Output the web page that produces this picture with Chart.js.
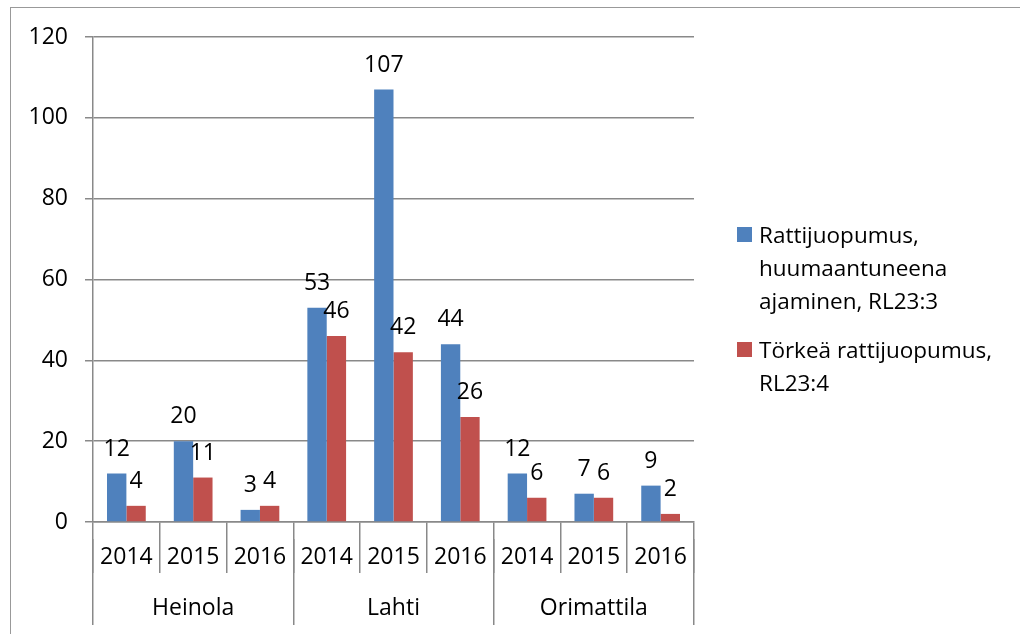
<!DOCTYPE html>
<html>
<head>
<meta charset="utf-8">
<script src="https://cdn.jsdelivr.net/npm/chart.js@4/dist/chart.umd.min.js"></script>
<style>
    body { margin: 0; background: #fff; }
    #wrap { position: relative; width: 1020px; height: 634px; overflow: hidden; }
    #frame { position: absolute; left: 10px; top: 7px; width: 1100px; height: 700px;
             border-left: 1px solid #999; border-top: 1px solid #999; }
    #chart-canvas { position: absolute; left: 0; top: 0; }
    #legend { position: absolute; left: 737px; top: 218px; font-family: 'Open Sans', sans-serif;
              font-size: 22.5px; line-height: 33px; color: #000; }
    .legend-item { position: relative; padding-left: 22px; margin-bottom: 16px; }
    .legend-box { position: absolute; left: 0; top: 9px; width: 15px; height: 15px; }
</style>
</head>
<body>
<div id="wrap">
    <div id="frame"></div>
    <canvas id="chart-canvas" width="1020" height="634"></canvas>
    <div id="legend"></div>
</div>
<script>
const cities = ['Heinola', 'Lahti', 'Orimattila'];
const years = ['2014', '2015', '2016'];
const seriesNames = [
    ['Rattijuopumus,', 'huumaantuneena', 'ajaminen, RL23:3'],
    ['Törkeä rattijuopumus,', 'RL23:4']
];
const rattijuopumus = [12, 20, 3, 53, 107, 44, 12, 7, 9];
const torkeaRattijuopumus = [4, 11, 4, 46, 42, 26, 6, 6, 2];
const yTicks = [0, 20, 40, 60, 80, 100, 120];

Chart.defaults.font.family = "'Open Sans', sans-serif";
Chart.defaults.font.size = 23;
Chart.defaults.color = '#000';

const gridColor = '#898989';

// numbers above each bar
const barValueLabels = {
    id: 'barValueLabels',
    afterDatasetsDraw(chart) {
        const ctx = chart.ctx;
        ctx.save();
        ctx.font = "23px 'Open Sans', sans-serif";
        ctx.fillStyle = '#000';
        ctx.textAlign = 'center';
        ctx.textBaseline = 'alphabetic';
        chart.data.datasets.forEach((ds, i) => {
            chart.getDatasetMeta(i).data.forEach((bar, j) => {
                ctx.fillText(ds.data[j], bar.x, bar.y - 18);
            });
        });
        ctx.restore();
    }
};

document.addEventListener('DOMContentLoaded', (event) => {
    const chart = new Chart(document.getElementById('chart-canvas'), {
        type: 'bar',
        data: {
            labels: cities.flatMap(() => years),
            datasets: [{
                label: seriesNames[0].join(' '),
                backgroundColor: '#4F81BD',
                data: rattijuopumus
            }, {
                label: seriesNames[1].join(' '),
                backgroundColor: '#C0504D',
                data: torkeaRattijuopumus
            }]
        },
        plugins: [barValueLabels],
        options: {
            responsive: false,
            animation: false,
            events: [],
            layout: {
                padding: { top: 37, left: 10, right: 326, bottom: 43 }
            },
            plugins: {
                legend: { display: false },
                tooltip: { enabled: false }
            },
            datasets: {
                bar: {
                    categoryPercentage: 0.58,
                    barPercentage: 1
                }
            },
            scales: {
                x: {
                    position: 'bottom',
                    weight: 0,
                    offset: true,
                    grid: {
                        offset: true,
                        drawOnChartArea: false,
                        tickLength: 51,
                        color: gridColor,
                        lineWidth: 1.5
                    },
                    border: { color: gridColor, width: 1.5 },
                    // mirror keeps the labels from being clipped to the thin axis box
                    ticks: { mirror: true, padding: -48.8, maxRotation: 0, autoSkip: false },
                    afterFit: (scale) => { scale.height = 17; }
                },
                x2: {
                    type: 'category',
                    position: 'bottom',
                    weight: 1,
                    labels: cities,
                    offset: true,
                    grid: {
                        offset: true,
                        drawOnChartArea: false,
                        tickLength: 86,
                        color: gridColor,
                        lineWidth: 1.5
                    },
                    border: { display: false },
                    ticks: { mirror: true, padding: -82.8, maxRotation: 0, autoSkip: false },
                    afterFit: (scale) => { scale.height = 52; }
                },
                y: {
                    min: yTicks[0],
                    max: yTicks[yTicks.length - 1],
                    afterBuildTicks: (scale) => { scale.ticks = yTicks.map(v => ({ value: v })); },
                    grid: {
                        color: gridColor,
                        lineWidth: 1.5,
                        tickLength: 8
                    },
                    border: { color: gridColor, width: 1.5 },
                    ticks: { padding: 17 },
                    afterFit: (scale) => { scale.width = 83; }
                }
            }
        }
    });

    // legend with wrapped lines, built from the datasets
    const legend = document.getElementById('legend');
    chart.data.datasets.forEach((ds, i) => {
        const item = document.createElement('div');
        item.className = 'legend-item';
        const box = document.createElement('span');
        box.className = 'legend-box';
        box.style.background = ds.backgroundColor;
        item.appendChild(box);
        seriesNames[i].forEach(line => {
            const row = document.createElement('div');
            row.textContent = line;
            item.appendChild(row);
        });
        legend.appendChild(item);
    });
});
</script>
</body>
</html>
